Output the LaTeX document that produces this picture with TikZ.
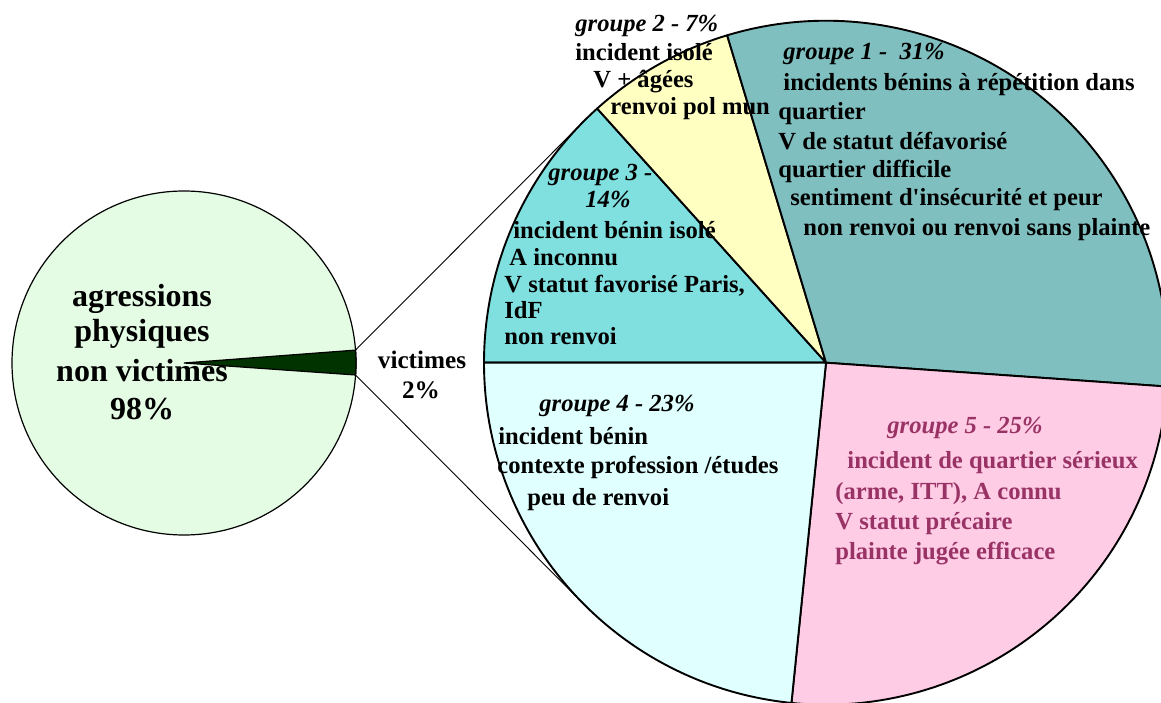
\documentclass[tikz,border=0pt]{standalone}
\usepackage{fontspec}
\setmainfont{Liberation Serif}
\usetikzlibrary{calc}

\definecolor{nonvict}{RGB}{228,252,228}
\definecolor{victgreen}{RGB}{0,51,0}
\definecolor{gone}{RGB}{127,191,191}
\definecolor{gtwo}{RGB}{255,255,194}
\definecolor{gthree}{RGB}{128,224,224}
\definecolor{gfour}{RGB}{224,255,255}
\definecolor{gfive}{RGB}{255,204,229}
\definecolor{plum}{RGB}{153,51,102}

% straight apostrophe, set as a glyph so that no quote mapping applies
\newcommand{\apos}{\XeTeXglyph\XeTeXcharglyph"0027\relax}

\begin{document}
\begin{tikzpicture}[x=0.5pt,y=0.5pt,
  lbl/.style={anchor=base west, inner sep=0pt, font=\fontsize{12.3}{14}\selectfont\bfseries},
  head/.style={anchor=base west, inner sep=0pt, font=\fontsize{12.3}{14}\selectfont\bfseries\itshape},
  big/.style={anchor=base, inner sep=0pt, font=\fontsize{16}{18}\selectfont\bfseries},
  mid/.style={anchor=base, inner sep=0pt, font=\fontsize{12.6}{14}\selectfont\bfseries},
  slice/.style={draw=black, line width=0.95pt, line join=round},
  conn/.style={draw=black, line width=0.45pt}]

\useasboundingbox (0,0) rectangle (1161,702);
\clip (0,0) rectangle (1161,702);

% centres of the two pies
\coordinate (S) at (184,339);
\coordinate (C) at (826,339.3);

% small pie: non-victims and the victims wedge
\filldraw[fill=nonvict, line width=0.6pt] (S) circle[radius=172];
\filldraw[fill=victgreen, line width=0.6pt]
  (S) -- ($(S)+(-4:172)$) arc[start angle=-4, end angle=4.3, radius=172] -- cycle;

% ends of the wedge and tangent points on the large pie
\coordinate (p1) at ($(S)+(4.3:172)$);
\coordinate (p2) at ($(S)+(-4:172)$);
\coordinate (t1) at ($(C)+(135.07:342)$);
\coordinate (t2) at ($(C)+(224.88:342)$);

\draw[conn] (p1) -- (t1);
\draw[conn] (p2) -- (t2);

% large pie: the five groups of victims
\filldraw[slice, fill=gthree] (C) -- ++(132:342) arc[start angle=132, end angle=180, radius=342] -- cycle;
\filldraw[slice, fill=gtwo] (C) -- ++(106.8:342) arc[start angle=106.8, end angle=132, radius=342] -- cycle;
\filldraw[slice, fill=gone] (C) -- ++(-4:342) arc[start angle=-4, end angle=106.8, radius=342] -- cycle;
\filldraw[slice, fill=gfive] (C) -- ++(-95.8:342) arc[start angle=-95.8, end angle=-4, radius=342] -- cycle;
\filldraw[slice, fill=gfour] (C) -- ++(180:342) arc[start angle=180, end angle=264.2, radius=342] -- cycle;

% labels of the small pie
\node[big] (nv1) at (142,395) {agressions};
\node[big] (nv2) at (142,360) {physiques};
\node[big] (nv3) at (142,320) {non victimes};
\node[big] (nv4) at (142,283) {98\%};
\node[mid] (v1) at (422,333) {victimes};
\node[mid] (v2) at (421,303) {2\%};

% group 2
\node[head] (g2a) at (575,670) {groupe 2 - 7\%};
\node[lbl] (g2b) at (575,641) {incident isolé};
\node[lbl] (g2c) at (593,614) {V + âgées};
\node[lbl] (g2d) at (610,587) {renvoi pol mun};

% group 1
\node[head] (g1a) at (783,642) {groupe 1 -\ \ 31\%};
\node[lbl] (g1b) at (783,611) {incidents bénins à répétition dans};
\node[lbl] (g1c) at (778,582) {quartier};
\node[lbl] (g1d) at (778,552) {V de statut défavorisé};
\node[lbl] (g1e) at (778,524) {quartier difficile};
\node[lbl] (g1f) at (790,496) {sentiment d\apos insécurité et peur};
\node[lbl] (g1g) at (803,466) {non renvoi ou renvoi sans plainte};

% group 3
\node[head] (g3a) at (548,521) {groupe 3 -};
\node[head] (g3b) at (585,494) {14\%};
\node[lbl] (g3c) at (513,463) {incident bénin isolé};
\node[lbl] (g3d) at (509,436) {A inconnu};
\node[lbl] (g3e) at (504,409) {V statut favorisé Paris,};
\node[lbl] (g3f) at (504,383) {IdF};
\node[lbl] (g3g) at (504,357) {non renvoi};

% group 4
\node[head] (g4a) at (539,291) {groupe 4 - 23\%};
\node[lbl] (g4b) at (498,257) {incident bénin};
\node[lbl] (g4c) at (497,228) {contexte profession /études};
\node[lbl] (g4d) at (527,197) {peu de renvoi};

% group 5
\node[head, text=plum] (g5a) at (887,269) {groupe 5 - 25\%};
\node[lbl, text=plum] (g5b) at (847,234) {incident de quartier sérieux};
\node[lbl, text=plum] (g5c) at (835,203) {(arme, ITT), A connu};
\node[lbl, text=plum] (g5d) at (835,173) {V statut précaire};
\node[lbl, text=plum] (g5e) at (835,143) {plainte jugée efficace};
\end{tikzpicture}
\end{document}
